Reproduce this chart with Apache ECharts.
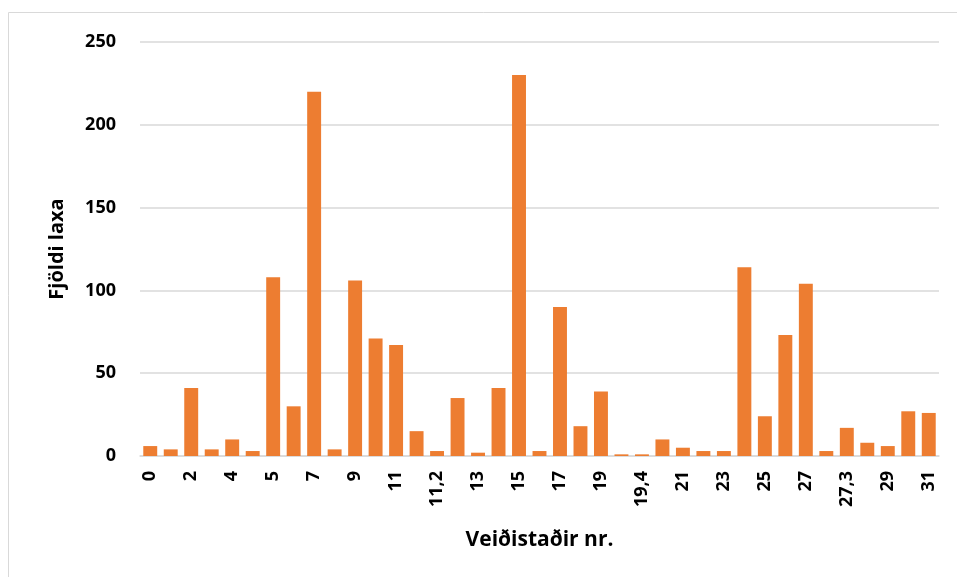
<!DOCTYPE html>
<html>
<head>
<meta charset="utf-8">
<script src="https://cdn.jsdelivr.net/npm/echarts@6/dist/echarts.min.js"></script>
<style>
  html, body { margin: 0; padding: 0; background: #fff; }
  #draw { width: 957px; height: 577px; }
</style>
</head>
<body>
<div id="draw"></div>
<script>
// veiðistaðir (hidden every-other labels are guesses)
var stadir = ['0', '1', '2', '3', '4', '4,5', '5', '6', '7', '8', '9', '10', '11', '11,1', '11,2',
	'12', '13', '14', '15', '16', '17', '18', '19', '19,2', '19,4', '20', '21', '22', '23', '24',
	'25', '26', '27', '27,2', '27,3', '28', '29', '30', '31'];
var fjoldi = [6, 4, 41, 4, 10, 3, 108, 30, 220, 4, 106, 71, 67, 15, 3,
	35, 2, 41, 230, 3, 90, 18, 39, 1, 1, 10, 5, 3, 3, 114,
	24, 73, 104, 3, 17, 8, 6, 27, 26];
var yTicks = [0, 50, 100, 150, 200, 250];

var myChart = echarts.init(document.getElementById('draw'));
var font = '"Open Sans", Lato, sans-serif';

option = {
	animation : false,
	graphic : [ {
		type : 'rect',
		shape : { x : 8.5, y : 12.5, width : 980, height : 600 },
		style : { fill : null, stroke : '#d9d9d9', lineWidth : 1 }
	} ],
	grid : {
		left : 140,
		right : 18,
		top : 42,
		bottom : 121
	},
	xAxis : {
		type : 'category',
		data : stadir,
		name : 'Veiðistaðir nr.',
		nameLocation : 'middle',
		nameGap : 74,
		nameTextStyle : {
			fontFamily : font,
			fontWeight : 'bold',
			fontSize : 21,
			color : '#000'
		},
		axisLine : { lineStyle : { color : '#d9d9d9', width : 1.5 } },
		axisTick : { show : false },
		axisLabel : {
			interval : 1,
			rotate : 90,
			margin : 15,
			fontFamily : font,
			fontWeight : 'bold',
			fontSize : 18,
			color : '#000'
		}
	},
	yAxis : {
		type : 'value',
		min : 0,
		max : 250,
		interval : 50,
		name : 'Fjöldi laxa',
		nameLocation : 'middle',
		nameGap : 73,
		nameTextStyle : {
			fontFamily : font,
			fontWeight : 'bold',
			fontSize : 20,
			color : '#000'
		},
		axisLine : { show : false },
		axisTick : { show : false },
		axisLabel : {
			margin : 24,
			fontFamily : font,
			fontWeight : 'bold',
			fontSize : 18,
			color : '#000',
			formatter : function(v) {
				return yTicks.indexOf(v) >= 0 ? String(v) : '';
			}
		},
		splitLine : { lineStyle : { color : '#d9d9d9', width : 1.5 } }
	},
	series : [ {
		name : 'Fjöldi laxa',
		type : 'bar',
		data : fjoldi,
		barCategoryGap : '32%',
		itemStyle : { color : '#ED7D31' }
	} ]
};
myChart.setOption(option);
</script>
</body>
</html>
